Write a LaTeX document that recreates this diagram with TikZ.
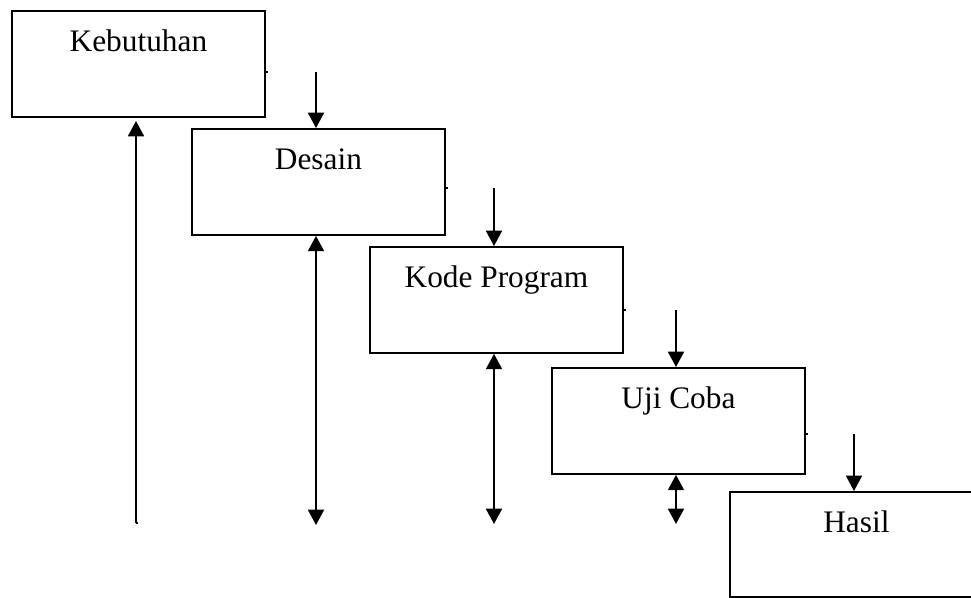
\documentclass[tikz,border=0pt]{standalone}
\usepackage{fontspec}
\setmainfont{Liberation Serif}
\usetikzlibrary{arrows.meta,calc}
\begin{document}
\begin{tikzpicture}[x=0.75pt,y=-0.75pt,
  stagebox/.style={draw=black,line width=1.4pt,minimum width=189.75pt,minimum height=79.5pt,inner sep=0pt,anchor=north west},
  stagetext/.style={anchor=base,font=\fontsize{23.5}{28}\selectfont,inner sep=0pt},
  flow/.style={line width=1.4pt,-{Triangle[width=12pt,length=11.5pt]}},
  both/.style={line width=1.4pt,{Triangle[width=12pt,length=11.5pt]}-{Triangle[width=12pt,length=11.5pt]}},
  tick/.style={line width=1pt}]
\useasboundingbox (0,0) rectangle (971,597);
\clip (0,0) rectangle (971,597);
% boxes
\node[stagebox] (keb) at (11,10) {};
\node[stagebox] (des) at (191,128) {};
\node[stagebox] (kod) at (369,246) {};
\node[stagebox] (uji) at (551,367) {};
\node[stagebox,minimum height=78.6pt] (has) at (729,491) {};
% texts
\node[stagetext] (tkeb) at ($(keb.north)+(0,41)$) {Kebutuhan};
\node[stagetext] (tdes) at ($(des.north)+(0,41)$) {Desain};
\node[stagetext] (tkod) at ($(kod.north)+(0,41)$) {Kode Program};
\node[stagetext] (tuji) at ($(uji.north)+(0,41)$) {Uji Coba};
\node[stagetext] (thas) at ($(has.north)+(0,41)$) {Hasil};
% start points of down arrows
\coordinate (s1) at (316,72);
\coordinate (s2) at (494,188);
\coordinate (s3) at (676,310);
\coordinate (s4) at (854,434);
% ends of feedback lines
\coordinate (b0) at (136,523);
\coordinate (b1) at (316,525);
\coordinate (b2) at (494,524);
\coordinate (b3) at (676,524);
\coordinate (u0) at (136,121);
% down arrows
\draw[flow] (s1) -- (s1 |- des.north);
\draw[flow] (s2) -- (s2 |- kod.north);
\draw[flow] (s3) -- (s3 |- uji.north);
\draw[flow] (s4) -- (s4 |- has.north);
% feedback arrows
\draw[flow] (b0) -- (u0);
\draw[both] (b1 |- des.south) -- (b1);
\draw[both] (b2 |- kod.south) -- (b2);
\draw[both] (b3 |- uji.south) -- (b3);
% small marks
\draw[tick] (keb.east |- s1) -- ++(2,0);
\draw[tick] (des.east |- s2) -- ++(2,0);
\draw[tick] (kod.east |- s3) -- ++(2,0);
\draw[tick] (uji.east |- s4) -- ++(2,0);
\draw[tick] (b0) -- ++(2,0);
\end{tikzpicture}
\end{document}
